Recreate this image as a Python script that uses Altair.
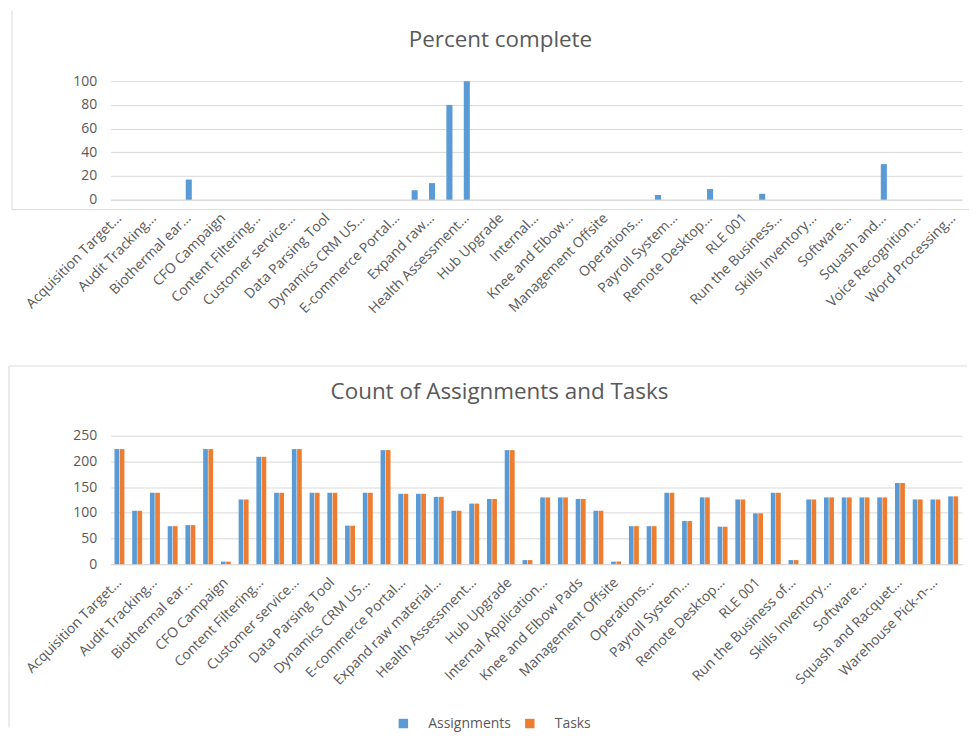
import json
import altair as alt
import pandas as pd

# ---------------- data ----------------
projects = [
    "Acquisition Target Evaluation", "Active Directory Upgrade", "Audit Tracking Management",
    "Bike Pro Upgrade", "Biothermal ear thermometer", "Call Center Expansion", "CFO Campaign",
    "Collaboration Portal", "Content Filtering Implementation", "Corporate Website Redesign",
    "Customer service portal", "Data Center Consolidation", "Data Parsing Tool",
    "Document Management System", "Dynamics CRM US Rollout", "E-Business Website",
    "E-commerce Portal Upgrade", "Employee Onboarding Program", "Expand raw material supply",
    "Golf Club Redesign", "Health Assessment Program", "Help Desk Upgrade", "Hub Upgrade",
    "Infrastructure Refresh", "Internal Application Migration", "IT Service Management",
    "Knee and Elbow Pads", "Laptop Refresh", "Management Offsite", "Mobile Device Rollout",
    "Operations Excellence Initiative", "Oracle Database Upgrade", "Payroll System Upgrade",
    "Product Launch Planning", "Remote Desktop Deployment", "Retail Store Expansion", "RLE 001",
    "RLE 002", "Run the Business of IT", "SharePoint Migration", "Skills Inventory Database",
    "Social Media Campaign", "Software Asset Management", "Sports Drink Launch",
    "Squash and Racquet Balls", "Tennis Racquet Line", "Voice Recognition Software",
    "Warehouse Pick-n-Pack", "Word Processing Upgrade",
]

percent_complete = [
    0, 0, 0, 0, 17, 0, 0, 0, 0, 0,
    0, 0, 0, 0, 0, 0, 0, 8, 14, 80,
    100, 0, 0, 0, 0, 0, 0, 0, 0, 0,
    0, 4, 0, 0, 9, 0, 0, 5, 0, 0,
    0, 0, 0, 0, 30, 0, 0, 0, 0,
]

top_axis_labels = [
    "Acquisition Target…", "Audit Tracking…", "Biothermal ear…", "CFO Campaign",
    "Content Filtering…", "Customer service…", "Data Parsing Tool", "Dynamics CRM US…",
    "E-commerce Portal…", "Expand raw…", "Health Assessment…", "Hub Upgrade", "Internal…",
    "Knee and Elbow…", "Management Offsite", "Operations…", "Payroll System…",
    "Remote Desktop…", "RLE 001", "Run the Business…", "Skills Inventory…", "Software…",
    "Squash and…", "Voice Recognition…", "Word Processing…",
]

count_projects = [
    "Acquisition Target Evaluation", "Active Directory Upgrade", "Audit Tracking Management",
    "Bike Pro Upgrade", "Biothermal ear thermometer", "Call Center Expansion", "CFO Campaign",
    "Collaboration Portal", "Content Filtering Implementation", "Corporate Website Redesign",
    "Customer service portal", "Data Center Consolidation", "Data Parsing Tool",
    "Document Management System", "Dynamics CRM US Rollout", "E-Business Website",
    "E-commerce Portal Upgrade", "Employee Onboarding Program", "Expand raw material supply",
    "Golf Club Redesign", "Health Assessment Program", "Help Desk Upgrade", "Hub Upgrade",
    "Infrastructure Refresh", "Internal Application Migration", "IT Service Management",
    "Knee and Elbow Pads", "Laptop Refresh", "Management Offsite", "Mobile Device Rollout",
    "Operations Excellence Initiative", "Oracle Database Upgrade", "Payroll System Upgrade",
    "Product Launch Planning", "Remote Desktop Deployment", "Retail Store Expansion", "RLE 001",
    "RLE 002", "Run the Business of IT", "SharePoint Migration", "Skills Inventory Database",
    "Social Media Campaign", "Software Asset Management", "Sports Drink Launch",
    "Squash and Racquet Balls", "Tennis Racquet Line", "Warehouse Pick-n-Pack",
    "Word Processing Upgrade",
]

assignments = [
    224, 104, 139, 74, 76, 224, 5, 126, 209, 139, 224, 139,
    139, 75, 139, 222, 137, 137, 131, 104, 118, 127, 222, 8,
    130, 130, 127, 104, 5, 74, 74, 139, 84, 130, 73, 126,
    99, 139, 8, 126, 130, 130, 130, 130, 158, 126, 126, 132,
]
tasks = [
    224, 104, 139, 74, 76, 224, 5, 126, 209, 139, 224, 139,
    139, 75, 139, 222, 137, 137, 131, 104, 118, 127, 222, 8,
    130, 130, 127, 104, 5, 74, 74, 139, 84, 130, 73, 126,
    99, 139, 8, 126, 130, 130, 130, 130, 158, 126, 126, 132,
]

bottom_axis_labels = [
    "Acquisition Target…", "Audit Tracking…", "Biothermal ear…", "CFO Campaign",
    "Content Filtering…", "Customer service…", "Data Parsing Tool", "Dynamics CRM US…",
    "E-commerce Portal…", "Expand raw material…", "Health Assessment…", "Hub Upgrade",
    "Internal Application…", "Knee and Elbow Pads", "Management Offsite", "Operations…",
    "Payroll System…", "Remote Desktop…", "RLE 001", "Run the Business of…",
    "Skills Inventory…", "Software…", "Squash and Racquet…", "Warehouse Pick-n-…",
]

series_names = ["Assignments", "Tasks"]
series_colors = ["#5B9BD5", "#ED7D31"]

# ---------------- tables ----------------
top_df = pd.DataFrame({
    "idx": list(range(len(projects))),
    "project": projects,
    "pct": percent_complete,
})

rows = []
for i, p in enumerate(count_projects):
    rows.append({"idx": i, "project": p, "series": "Assignments", "count": assignments[i]})
    rows.append({"idx": i, "project": p, "series": "Tasks", "count": tasks[i]})
bottom_df = pd.DataFrame(rows)

one = pd.DataFrame({"k": [0]})

# ---------------- styling ----------------
W = 855
TOP_H = 119
BOT_H = 129
GRID = "#d9d9d9"
FRAME = "#d9d9d9"
TXT = "#595959"
FONT = "Open Sans"


def label_expr(labels):
    return ("datum.value % 2 == 0 ? " + json.dumps(labels, ensure_ascii=False)
            + "[datum.value / 2] : ''")


def x_axis(labels):
    return alt.Axis(
        title=None, labelExpr=label_expr(labels), labelAngle=315, labelAlign="right",
        labelBaseline="middle", labelPadding=16, ticks=False, domainColor=GRID,
        labelFontSize=14, labelColor=TXT, labelFont=FONT, labelOverlap=False,
        labelLimit=300,
    )


def y_axis(values):
    return alt.Axis(
        title=None, values=values, domain=False, ticks=False, gridColor=GRID,
        labelPadding=14, labelFontSize=14, labelColor=TXT, labelFont=FONT,
    )


def title(text, offset, dx):
    return alt.Title(
        text, fontSize=22.5, fontWeight="normal", color=TXT, font=FONT,
        baseline="alphabetic", offset=offset, frame="group", anchor="middle", dx=dx,
    )


# ---------------- top chart ----------------
top_bars = alt.Chart(top_df).mark_bar(color=series_colors[0]).encode(
    x=alt.X("idx:O", scale=alt.Scale(paddingInner=0.65, paddingOuter=0.325),
            axis=x_axis(top_axis_labels)),
    y=alt.Y("pct:Q", scale=alt.Scale(domain=[0, 100], nice=False),
            axis=y_axis([0, 20, 40, 60, 80, 100])),
)
top_pin = alt.Chart(one).mark_rule(color="white").encode(
    x=alt.value(-99), y=alt.value(129), y2=alt.value(281))
top_left = alt.Chart(one).mark_rule(color=FRAME).encode(
    x=alt.value(-99), y=alt.value(-71), y2=alt.value(129))
top_bottom = alt.Chart(one).mark_rule(color=FRAME).encode(
    x=alt.value(-99), x2=alt.value(862), y=alt.value(129))

top = alt.layer(top_pin, top_left, top_bottom, top_bars).properties(
    width=W, height=TOP_H, title=title("Percent complete", -60, -36))

# ---------------- bottom chart ----------------
bottom_bars = alt.Chart(bottom_df).mark_bar().encode(
    x=alt.X("idx:O", scale=alt.Scale(paddingInner=0.44, paddingOuter=0.22),
            axis=x_axis(bottom_axis_labels)),
    xOffset=alt.XOffset("series:N", sort=series_names, scale=alt.Scale(paddingInner=0.1)),
    y=alt.Y("count:Q", scale=alt.Scale(domain=[0, 250], nice=False),
            axis=y_axis([0, 50, 100, 150, 200, 250])),
    color=alt.Color(
        "series:N", sort=series_names,
        scale=alt.Scale(domain=series_names, range=series_colors),
        legend=alt.Legend(
            title=None, orient="none", legendX=287, legendY=638, direction="horizontal",
            symbolType="square", symbolSize=90, symbolStrokeWidth=0, labelFontSize=14,
            labelColor=TXT, labelFont=FONT, labelOffset=18, columnPadding=12,
        ),
    ),
)
bottom_left = alt.Chart(one).mark_rule(color=FRAME).encode(
    x=alt.value(-102), y=alt.value(-70), y2=alt.value(293))
bottom_top = alt.Chart(one).mark_rule(color=FRAME).encode(
    x=alt.value(-102), x2=alt.value(860), y=alt.value(-70))

bottom = alt.layer(bottom_left, bottom_top, bottom_bars).properties(
    width=W, height=BOT_H, title=title("Count of Assignments and Tasks", -56, -37))

chart = (
    alt.vconcat(top, bottom, spacing=3)
    .properties(padding=0)
    .configure(font=FONT)
    .configure_view(stroke="transparent")
)

chart.save("out.html", embed_options={"renderer": "svg", "actions": False})
